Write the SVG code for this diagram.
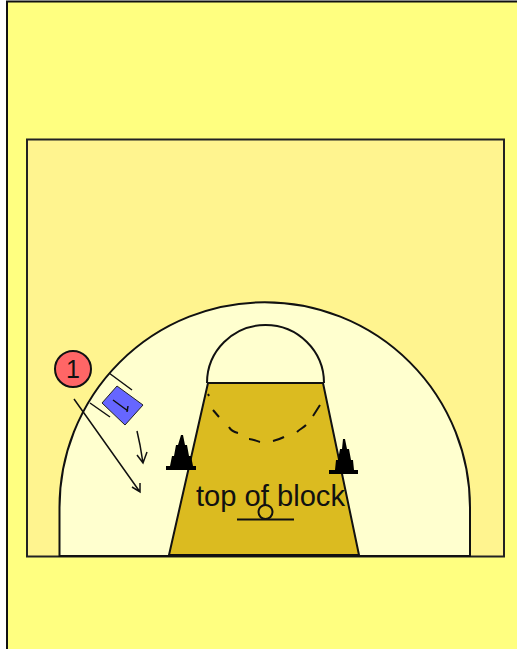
<svg xmlns="http://www.w3.org/2000/svg" width="517" height="649" viewBox="0 0 517 649">
<style>
.l{fill:none;stroke:#111;stroke-width:2}
.t{stroke:#111;stroke-width:1.5;fill:none}
.c{fill:#000}
text{font-family:"Liberation Sans",Arial,sans-serif;fill:#111}
</style>
<rect x="0" y="0" width="517" height="649" fill="#fff"/>
<rect x="7" y="2" width="510" height="647" fill="#ffff80"/>
<path class="l" d="M7 649V1.500H517"/>
<g id="court">
<rect x="27" y="139.500" width="477" height="417" fill="#fff48f" stroke="#222" stroke-width="2"/>
<path d="M59.500 556V507.500A205.250 205.250 0 0 1 470 507.500V556Z" fill="#ffffcf" stroke="#111" stroke-width="2"/>
<path d="M208 383L169 555H359L323 383Z" fill="#dbbb20" stroke="#111" stroke-width="2"/>
<path class="l" d="M207 383A58.500 58 0 0 1 324 383"/>
<path class="l" d="M208 383H323"/>
<path class="l" d="M208 394L209 396M213 410L219 417M229 427C231 431 234 432 238 433M249 439C253 439 256 441 260 442M273 441C277 440 280 439 284 437M297 432C300 429 303 428 306 425M313 416L320 405"/>
<path class="l" d="M237 519.500H294"/>
<circle cx="265.500" cy="512" r="7" fill="#dbbb20" stroke="#111" stroke-width="2"/>
</g>
<g id="cone-left">
<path class="c" d="M181 435H183L185 445H187L189 456H191L193 466H196V470H166V466H170L172 456H174L176 445H178Z"/>
</g>
<g id="cone-right">
<path class="c" d="M343 439H345L347 449H349L351 460H353L354 470H358V474H329V470H335L336 460H338L340 449H342Z"/>
</g>
<g id="label">
<text x="196" y="506" font-size="29" textLength="149" lengthAdjust="spacingAndGlyphs">top of block</text>
</g>
<g id="connectors">
<path class="t" d="M74 399L140 492M132 487L140 492L140 483"/>
<path class="t" d="M137 431L140 445L143 463M137 455L143 463L147 452"/>
<path class="t" d="M109 373L132 390M90 403L110 417"/>
</g>
<g id="player-1">
<circle cx="73" cy="369" r="18" fill="#ff6666" stroke="#111" stroke-width="2"/>
<text x="73" y="378" font-size="25" text-anchor="middle">1</text>
</g>
<g id="defender">
<path d="M117 386L143 405L125 425L102 403Z" fill="#6666ff" stroke="#222" stroke-width="1"/>
<path class="t" d="M113 400L128 411M128 406L127 412"/>
</g>
</svg>
